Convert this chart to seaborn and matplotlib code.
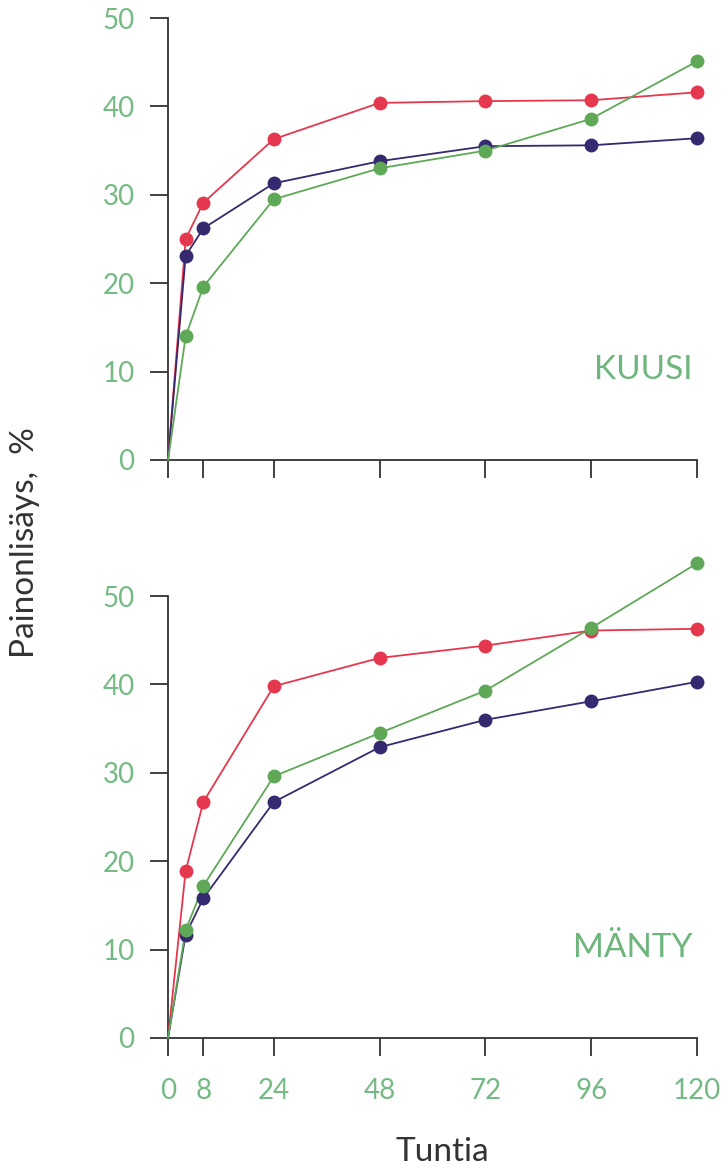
import matplotlib
matplotlib.use("Agg")
import matplotlib.pyplot as plt
import numpy as np
import pandas as pd
import seaborn as sns

# aineisto
tunnit = [0, 4, 8, 24, 48, 72, 96, 120]
sarjat = ["punainen", "sininen", "vihrea"]

kuusi_punainen = [0, 25.0, 29.1, 36.3, 40.4, 40.6, 40.7, 41.6]
kuusi_sininen = [0, 23.1, 26.2, 31.3, 33.8, 35.5, 35.6, 36.4]
kuusi_vihrea = [0, 14.0, 19.6, 29.5, 33.0, 35.0, 38.6, 45.1]

manty_punainen = [0, 18.9, 26.7, 39.8, 43.0, 44.4, 46.1, 46.3]
manty_sininen = [0, 11.7, 15.8, 26.7, 32.9, 36.0, 38.1, 40.3]
manty_vihrea = [0, 12.2, 17.2, 29.6, 34.5, 39.3, 46.4, 53.7]

xtiks = [0, 8, 24, 48, 72, 96, 120]
ytiks = [0, 10, 20, 30, 40, 50]

varit = {"punainen": "#e5384e", "sininen": "#35296f", "vihrea": "#5ea858"}
tick_vari = "#75ba84"
akseli_vari = "#333333"


def taulu(p, s, v):
    rivit = []
    for nimi, arvot in zip(sarjat, [p, s, v]):
        for t, a in zip(tunnit, arvot):
            rivit.append({"Tuntia": t, "arvo": a, "sarja": nimi})
    return pd.DataFrame(rivit)


df_kuusi = taulu(kuusi_punainen, kuusi_sininen, kuusi_vihrea)
df_manty = taulu(manty_punainen, manty_sininen, manty_vihrea)

sns.set_style("white")
plt.rcParams["font.family"] = ["Lato", "DejaVu Sans"]

fig = plt.figure(figsize=(7.23, 11.71), dpi=100)
ax1 = fig.add_axes([0.2324, 0.6072, 0.7316, 0.3774])
ax2 = fig.add_axes([0.2324, 0.1136, 0.7316, 0.4151])


def piirra(ax, df, ylaraja, nimi, nimi_y):
    sns.lineplot(data=df, x="Tuntia", y="arvo", hue="sarja", palette=varit,
                 hue_order=sarjat, linewidth=1.3, legend=False, ax=ax,
                 clip_on=False, zorder=3)
    pisteet = df[df["Tuntia"] > 0]
    for nimi_s in sarjat:
        osa = pisteet[pisteet["sarja"] == nimi_s]
        sns.scatterplot(data=osa, x="Tuntia", y="arvo", color=varit[nimi_s],
                        s=100, linewidth=0, legend=False, ax=ax,
                        clip_on=False, zorder=4)
    ax.set_xlim(0, 120)
    ax.set_ylim(0, ylaraja)
    ax.set_xticks(xtiks)
    ax.set_yticks(ytiks)
    for sp in ["top", "right"]:
        ax.spines[sp].set_visible(False)
    ax.spines["left"].set_bounds(0, 50)
    for sp in ["left", "bottom"]:
        ax.spines[sp].set_color(akseli_vari)
        ax.spines[sp].set_linewidth(1.3)
    ax.tick_params(axis="both", direction="out", length=13, width=1.3,
                   color=akseli_vari, labelcolor=tick_vari, labelsize=20,
                   bottom=True, left=True)
    ax.tick_params(axis="x", pad=16)
    ax.tick_params(axis="y", pad=11)
    ax.set_xlabel("")
    ax.set_ylabel("")
    ax.text(119, nimi_y, nimi, ha="right", va="center", fontsize=24,
            color="#6fb57e")


piirra(ax1, df_kuusi, 50, "KUUSI", 10.2)
piirra(ax2, df_manty, 55, "MÄNTY", 10.2)

ax1.tick_params(axis="x", labelbottom=False)

fig.text(0.035, 0.537, "Painonlisäys,  %", rotation=90, ha="center",
         va="center", fontsize=24, color=akseli_vari)
fig.text(0.612, 0.016, "Tuntia", ha="center", va="center", fontsize=24,
         color=akseli_vari)

plt.savefig("out.png", dpi=100)
